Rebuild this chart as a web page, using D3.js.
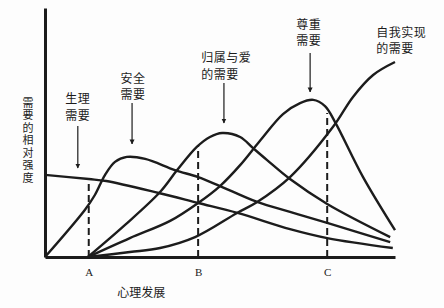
<!DOCTYPE html>
<html>
<head>
<meta charset="utf-8">
<script src="https://cdn.jsdelivr.net/npm/d3@7"></script>
<style>
  body { margin: 0; background: #fdfdfd; }
  svg { display: block; }
</style>
</head>
<body>
<div id="chart"></div>
<script>
// curves: [development, relative intensity 0-100]
var physiological = [[0, 33], [1, 31.3], [1.4, 30.5], [2.6, 25.7], [3.5, 21.7], [4.4, 17.7], [5.6, 11.2], [6.45, 7.6], [7.95, 3.6]];
var safety = [[0, 0], [0.91, 18.9], [1.14, 24.9], [1.37, 32.9], [1.6, 38.2], [1.87, 40.2], [2.29, 39.4], [2.97, 34.9], [3.5, 32.1], [4.0, 28.5], [4.85, 22.1], [5.6, 18.1], [6.45, 13.7], [7.89, 6.0]];
var belonging = [[0.98, 0], [1.83, 12.9], [2.63, 26.1], [3.02, 34.9], [3.47, 44.2], [3.77, 48.2], [4.05, 49.8], [4.46, 48.2], [4.75, 43.8], [5.07, 39.0], [5.6, 31.3], [6.45, 21.3], [7.89, 8.0]];
var esteem = [[0.98, 0], [1.94, 7.6], [2.86, 14.5], [3.5, 21.7], [4.0, 28.5], [4.46, 36.9], [4.91, 46.6], [5.44, 57.4], [5.83, 61.8], [6.13, 63.1], [6.4, 60.6], [6.63, 54.2], [7.27, 32.1], [8.0, 10.8]];
var selfActualization = [[0.98, 0], [1.94, 2.0], [2.63, 3.6], [3.43, 8.0], [4.39, 17.7], [4.85, 22.1], [5.6, 32.1], [6.58, 52.2], [7.04, 64.3], [7.5, 73.1], [8.0, 78.3]];

var stages = ["A", "B", "C"];
var stageX = [1, 3.5, 6.45];
var stageTop = [30.9, 45, 57.8];

var xTitle = "心理发展";
var yTitle = "需要的相对强度";

// label lines, arrow from / to (intensity)
var needLabels = [["生理", "需要"], ["安全", "需要"], ["归属与爱", "的需要"], ["尊重", "需要"], ["自我实现", "的需要"]];
var needLabelX = [0.75, 2.01, 3.57, 6.03, 7.57];
var needLabelY = [63.3, 71.5, 79.9, 93.2, 90.0];
var needAnchor = ["middle", "middle", "start", "middle", "start"];
var arrowX = [0.75, 1.99, 4.09, 6.06];
var arrowFrom = [52.6, 61.8, 69.9, 81.9];
var arrowTo = [35.7, 45.4, 53.8, 66.3];

var width = 444, height = 308;
var ink = "#1c1c1c";
var cjk = "'Noto Sans CJK SC', 'Noto Sans', sans-serif";

var svg = d3.select("#chart").append("svg")
    .attr("width", width)
    .attr("height", height);

var x = d3.scaleLinear().domain([0, 8]).range([45, 395]);
var y = d3.scaleLinear().domain([0, 100]).range([257, 8]);

svg.append("defs").append("marker")
    .attr("id", "head")
    .attr("viewBox", "0 0 10 10")
    .attr("refX", 9).attr("refY", 5)
    .attr("markerWidth", 5).attr("markerHeight", 8)
    .attr("markerUnits", "userSpaceOnUse")
    .attr("orient", "auto")
  .append("path")
    .attr("d", "M0,0 L10,5 L0,10 Z")
    .attr("fill", ink);

// dashed stage lines
svg.append("g").selectAll("line")
    .data(stageX)
  .enter().append("line")
    .attr("x1", function(d) { return x(d); })
    .attr("x2", function(d) { return x(d); })
    .attr("y1", y(0))
    .attr("y2", function(d, i) { return y(stageTop[i]); })
    .attr("stroke", ink)
    .attr("stroke-width", 2)
    .attr("stroke-dasharray", "7,4");

var line = d3.line()
    .x(function(d) { return x(d[0]); })
    .y(function(d) { return y(d[1]); })
    .curve(d3.curveCatmullRom.alpha(0.5));

svg.append("g").selectAll("path")
    .data([physiological, safety, belonging, esteem, selfActualization])
  .enter().append("path")
    .attr("d", line)
    .attr("fill", "none")
    .attr("stroke", ink)
    .attr("stroke-width", 2.4);

// axes
var xAxis = svg.append("g")
    .attr("transform", "translate(0," + y(0) + ")")
    .call(d3.axisBottom(x).tickValues(stageX)
      .tickFormat(function(d, i) { return stages[i]; })
      .tickSize(0).tickPadding(11));
xAxis.select(".domain").attr("stroke", ink).attr("stroke-width", 3);
xAxis.selectAll("text")
    .attr("fill", ink)
    .style("font", "11px 'Liberation Serif', 'DejaVu Serif', serif");

var yAxis = svg.append("g")
    .attr("transform", "translate(" + x(0) + ",0)")
    .call(d3.axisLeft(y).tickValues([]).tickSizeOuter(0));
yAxis.select(".domain").attr("stroke", ink).attr("stroke-width", 3);

svg.append("text")
    .attr("x", x(2.2))
    .attr("y", 297)
    .attr("text-anchor", "middle")
    .attr("fill", ink)
    .style("font", "12px " + cjk)
    .text(xTitle);

svg.append("text")
    .attr("x", 28)
    .attr("y", 97)
    .attr("fill", ink)
    .style("writing-mode", "vertical-rl")
    .style("font", "11px " + cjk)
    .style("letter-spacing", "1.5px")
    .text(yTitle);

// need labels
var labels = svg.append("g").selectAll("text")
    .data(needLabels)
  .enter().append("text")
    .attr("text-anchor", function(d, i) { return needAnchor[i]; })
    .attr("fill", ink)
    .style("font", "12px " + cjk)
    .style("letter-spacing", "0.5px");

labels.selectAll("tspan")
    .data(function(d, i) { return d.map(function(t) { return {t: t, i: i}; }); })
  .enter().append("tspan")
    .attr("x", function(d) { return x(needLabelX[d.i]); })
    .attr("y", function(d, j) { return y(needLabelY[d.i]) + 4 + j * 16.5; })
    .text(function(d) { return d.t; });

svg.append("g").selectAll("line")
    .data(arrowX)
  .enter().append("line")
    .attr("x1", function(d) { return x(d); })
    .attr("x2", function(d) { return x(d); })
    .attr("y1", function(d, i) { return y(arrowFrom[i]); })
    .attr("y2", function(d, i) { return y(arrowTo[i]); })
    .attr("stroke", ink)
    .attr("stroke-width", 1.2)
    .attr("marker-end", "url(#head)");
</script>
</body>
</html>
